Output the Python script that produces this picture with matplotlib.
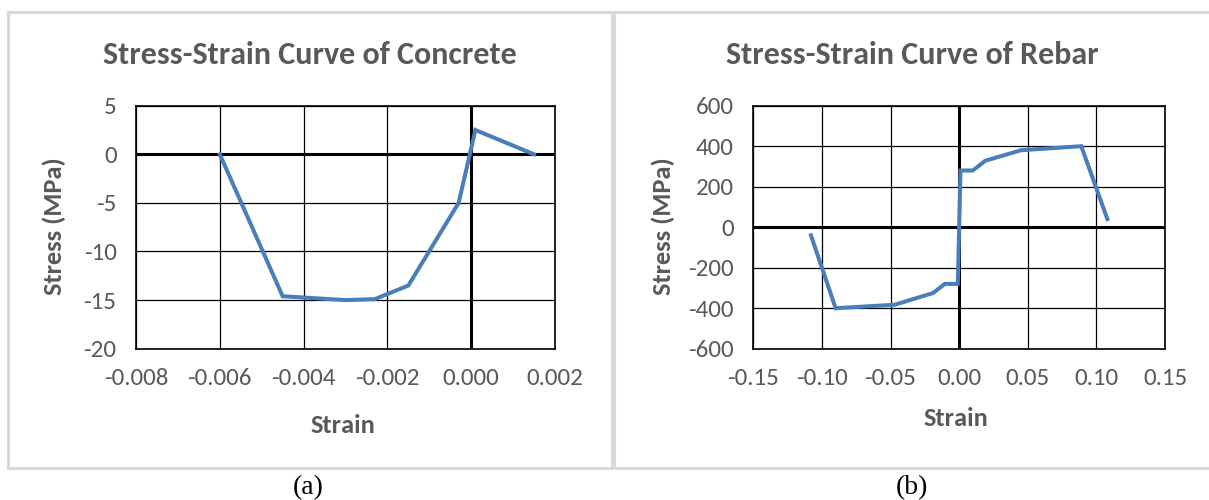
import matplotlib
matplotlib.use("Agg")
import matplotlib.pyplot as plt
from matplotlib.patches import Rectangle

# 数据：混凝土
concrete_strain = [-0.006, -0.0045, -0.003, -0.0023, -0.0015, -0.0003, 0.0001, 0.0015]
concrete_stress = [0.0, -14.6, -15.0, -14.9, -13.5, -5.0, 2.5, 0.0]

# 数据：钢筋
rebar_strain = [-0.108, -0.090, -0.047, -0.019, -0.0104, -0.001, 0.001, 0.010, 0.019, 0.045, 0.089, 0.108]
rebar_stress = [-40, -400, -383, -325, -280, -280, 280, 280, 328, 380, 400, 40]

concrete_xticks = [-0.008, -0.006, -0.004, -0.002, 0.000, 0.002]
concrete_yticks = [5, 0, -5, -10, -15, -20]
rebar_xticks = [-0.15, -0.10, -0.05, 0.00, 0.05, 0.10, 0.15]
rebar_yticks = [600, 400, 200, 0, -200, -400, -600]

plt.rcParams['font.family'] = ['Carlito', 'Open Sans', 'DejaVu Sans']
GRAY = '#595959'
BLUE = '#4A7EBB'

fig = plt.figure(figsize=(12.09, 5.0), dpi=100)
W, H = 1209.0, 500.0

# 外框
fig.patches.append(Rectangle((8 / W, 1 - 468 / H), 604 / W, 456 / H, transform=fig.transFigure,
                             fill=False, edgecolor='#D9D9D9', lw=2.2))
fig.patches.append(Rectangle((614 / W, 1 - 468 / H), 600 / W, 456 / H, transform=fig.transFigure,
                             fill=False, edgecolor='#D9D9D9', lw=2.2))

def make_axes(rect, xs, ys, xticks, yticks, xfmt, yfmt, title, tx, xlab_y, ylab_x):
    ax = fig.add_axes(rect)
    ax.plot(xs, ys, color=BLUE, lw=2.9, solid_joinstyle='miter', zorder=5)
    ax.set_xlim(xticks[0], xticks[-1])
    ax.set_ylim(min(yticks), max(yticks))
    ax.set_xticks(xticks)
    ax.set_yticks(yticks)
    ax.set_xticklabels([xfmt.format(v) for v in xticks])
    ax.set_yticklabels([yfmt.format(v) for v in yticks])
    ax.tick_params(length=0, labelsize=18, labelcolor=GRAY)
    ax.tick_params(axis='x', pad=14)
    ax.tick_params(axis='y', pad=14)
    ax.grid(True, color='black', lw=0.9)
    ax.axhline(0, color='black', lw=2.2, zorder=3)
    ax.axvline(0, color='black', lw=2.2, zorder=3)
    for s in ax.spines.values():
        s.set_color('black')
        s.set_linewidth(1.2)
    ax.set_axisbelow(True)
    fig.text(tx, 1 - 55 / H, title, ha='center', va='center', fontsize=23,
             fontweight='bold', color=GRAY)
    ax.text(0.493, xlab_y, 'Strain', transform=ax.transAxes, ha='center', va='center',
            fontsize=19, fontweight='bold', color=GRAY)
    ax.text(ylab_x, 0.505, 'Stress (MPa)', transform=ax.transAxes, ha='center', va='center',
            rotation=90, fontsize=19, fontweight='bold', color=GRAY)
    return ax

make_axes([136 / W, 1 - 348.7 / H, 419 / W, 243 / H], concrete_strain, concrete_stress,
          concrete_xticks, concrete_yticks, '{:.3f}', '{:d}',
          'Stress-Strain Curve of Concrete', 310 / W, -0.314, -0.1945)
make_axes([753.3 / W, 1 - 348.7 / H, 411.7 / W, 243 / H], rebar_strain, rebar_stress,
          rebar_xticks, rebar_yticks, '{:.2f}', '{:d}',
          'Stress-Strain Curve of Rebar', 912 / W, -0.289, -0.219)

# 图注
fig.text(308 / W, 1 - 488 / H, '(a)', ha='center', va='center', fontsize=20,
         family=['Liberation Serif', 'DejaVu Serif'])
fig.text(912 / W, 1 - 488 / H, '(b)', ha='center', va='center', fontsize=20,
         family=['Liberation Serif', 'DejaVu Serif'])

fig.savefig('out.png', dpi=100)
